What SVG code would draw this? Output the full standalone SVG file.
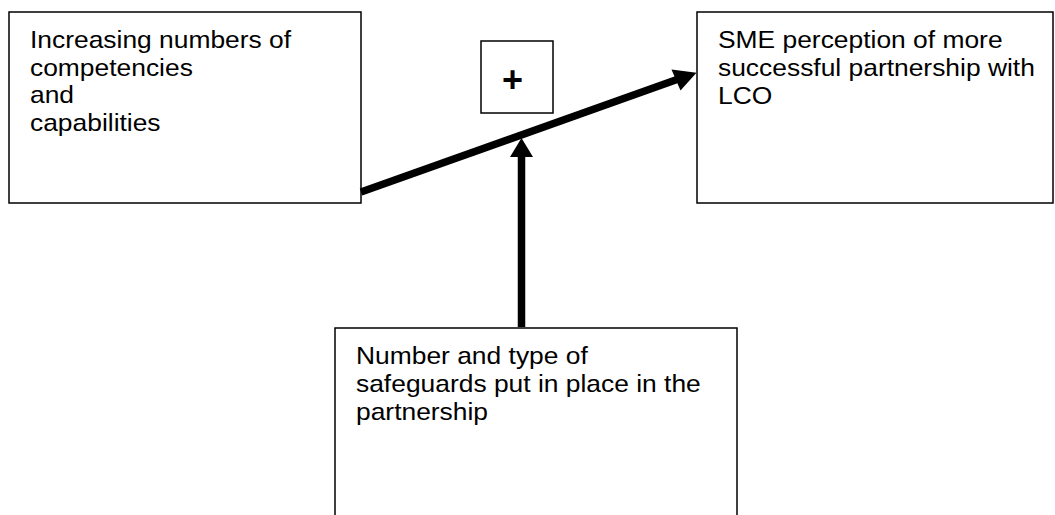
<svg xmlns="http://www.w3.org/2000/svg" width="1055" height="515" viewBox="0 0 1055 515">
<style>
.box{fill:#fff;stroke:#000;stroke-width:1.5}
.t{font-family:"Liberation Sans",Arial,sans-serif;font-size:24px;fill:#000}
.plus{font-family:"Liberation Sans",Arial,sans-serif;font-size:36px;font-weight:bold;fill:#000}
.conn{stroke:#000;stroke-width:7.5;fill:none}
.head{fill:#000;stroke:none}
</style>
<rect width="1055" height="515" fill="#fff"/>
<g id="node-competencies">
<rect class="box" x="9" y="12" width="352" height="191"/>
<text class="t" transform="translate(30,48) scale(1.1,1)"><tspan x="0" y="0">Increasing numbers of</tspan><tspan x="0" y="28">competencies</tspan><tspan x="0" y="55">and</tspan><tspan x="0" y="83">capabilities</tspan></text>
</g>
<g id="node-sme">
<rect class="box" x="697" y="12" width="356" height="191"/>
<text class="t" transform="translate(718,48) scale(1.1,1)"><tspan x="0" y="0">SME perception of more</tspan><tspan x="0" y="28">successful partnership with</tspan><tspan x="0" y="56">LCO</tspan></text>
</g>
<g id="node-plus">
<rect class="box" x="481" y="41" width="72" height="72"/>
<text class="plus" x="512.5" y="92" text-anchor="middle">+</text>
</g>
<g id="node-safeguards">
<rect class="box" x="335" y="328" width="402" height="200"/>
<text class="t" transform="translate(356,364) scale(1.1,1)"><tspan x="0" y="0">Number and type of</tspan><tspan x="0" y="28">safeguards put in place in the</tspan><tspan x="0" y="56">partnership</tspan></text>
</g>
<g id="connectors">
<line class="conn" x1="361" y1="192" x2="677" y2="79.5"/>
<polygon class="head" points="696.5,72.7 671.5,69.5 680.5,90.5"/>
<line class="conn" x1="521.5" y1="327" x2="521.5" y2="155"/>
<polygon class="head" points="521.5,138 510,157 533,157"/>
</g>
</svg>
